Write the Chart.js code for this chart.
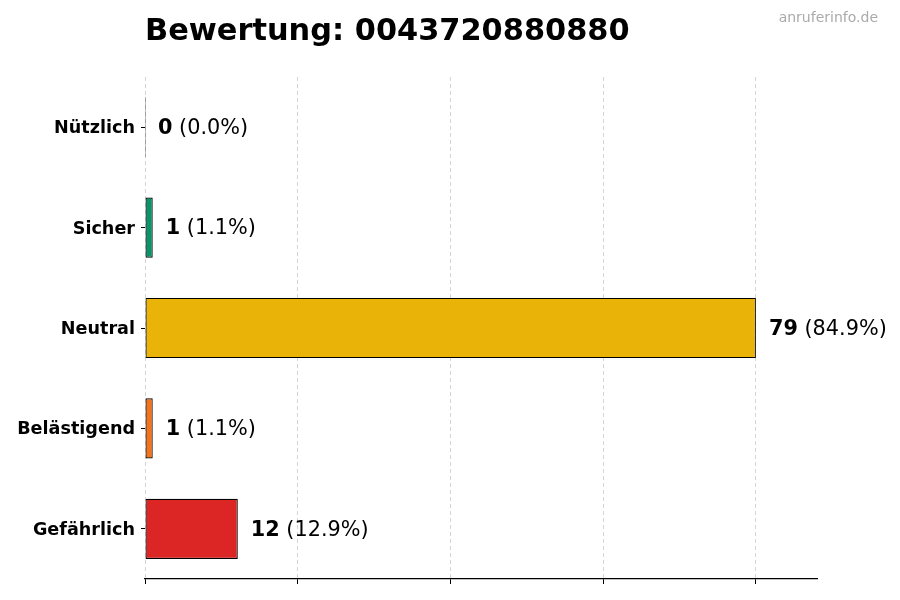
<!DOCTYPE html>
<html>
<head>
<meta charset="utf-8">
<script src="https://cdn.jsdelivr.net/npm/chart.js@4/dist/chart.umd.min.js"></script>
<style>
  html, body { margin: 0; padding: 0; background: #fff; }
  #wrap { width: 900px; height: 600px; }
</style>
</head>
<body>
<div id="wrap"><canvas id="chart"></canvas></div>
<script>
const categories = ['Nützlich', 'Sicher', 'Neutral', 'Belästigend', 'Gefährlich'];
const counts = [0, 1, 79, 1, 12];
const percents = ['0.0%', '1.1%', '84.9%', '1.1%', '12.9%'];
const barColors = ['#3b82f6', '#059669', '#eab308', '#f97316', '#dc2626'];
const gridTicks = [0, 19.75, 39.5, 59.25, 79];
const xMax = 86.9;
const titleText = 'Bewertung: 0043720880880';
const watermark = 'anruferinfo.de';

const FONT = "'DejaVu Sans', sans-serif";

// title, watermark and value labels next to the bars
const extras = {
  id: 'extras',
  afterDraw(chart) {
    const ctx = chart.ctx;
    ctx.save();
    ctx.textBaseline = 'alphabetic';
    ctx.fillStyle = '#000';
    ctx.textAlign = 'left';
    ctx.font = 'bold 30.4px ' + FONT;
    ctx.fillText(titleText, chart.chartArea.left, 40);

    ctx.fillStyle = '#aaaaaa';
    ctx.textAlign = 'right';
    ctx.font = '14px ' + FONT;
    ctx.fillText(watermark, 878, 22);

    const meta = chart.getDatasetMeta(0);
    const xs = chart.scales.x;
    ctx.textAlign = 'left';
    ctx.textBaseline = 'middle';
    meta.data.forEach((bar, i) => {
      let x = xs.getPixelForValue(counts[i]) + 13;
      const y = bar.y + 1.5;
      const num = String(counts[i]);
      ctx.fillStyle = '#000';
      ctx.font = 'bold 20.8px ' + FONT;
      ctx.fillText(num, x, y);
      x += ctx.measureText(num).width;
      ctx.font = '20.8px ' + FONT;
      ctx.fillText(' (' + percents[i] + ')', x, y);
    });
    ctx.restore();
  }
};

new Chart(document.getElementById('chart'), {
  type: 'bar',
  data: {
    labels: categories,
    datasets: [{
      data: counts,
      backgroundColor: barColors,
      borderColor: '#000',
      borderWidth: 1.2,
      borderSkipped: false,
      minBarLength: 1,
      barPercentage: 0.6,
      categoryPercentage: 1.0
    }]
  },
  options: {
    indexAxis: 'y',
    responsive: true,
    maintainAspectRatio: false,
    animation: false,
    layout: { padding: { top: 77, right: 83, left: 0, bottom: 0 } },
    plugins: {
      legend: { display: false },
      title: { display: false },
      tooltip: { enabled: false }
    },
    scales: {
      x: {
        min: 0,
        max: xMax,
        afterBuildTicks: (scale) => {
          scale.ticks = gridTicks.map(v => ({ value: v }));
        },
        afterFit: (scale) => { scale.height = 21; },
        ticks: { display: false },
        grid: {
          color: '#d4d4d4',
          lineWidth: 1,
          tickColor: '#000',
          tickBorderDash: [],
          tickLength: 5,
          drawTicks: true
        },
        border: { display: true, color: '#000', width: 1.3, dash: [4, 3] }
      },
      y: {
        afterFit: (scale) => { scale.width = 145; },
        ticks: {
          color: '#000',
          font: { family: FONT, size: 17.6, weight: 'bold' },
          padding: 6,
          labelOffset: 1.5
        },
        grid: {
          offset: false,
          drawOnChartArea: false,
          drawTicks: true,
          tickLength: 4,
          tickColor: '#000'
        },
        border: { display: false }
      }
    }
  },
  plugins: [extras]
});
</script>
</body>
</html>
